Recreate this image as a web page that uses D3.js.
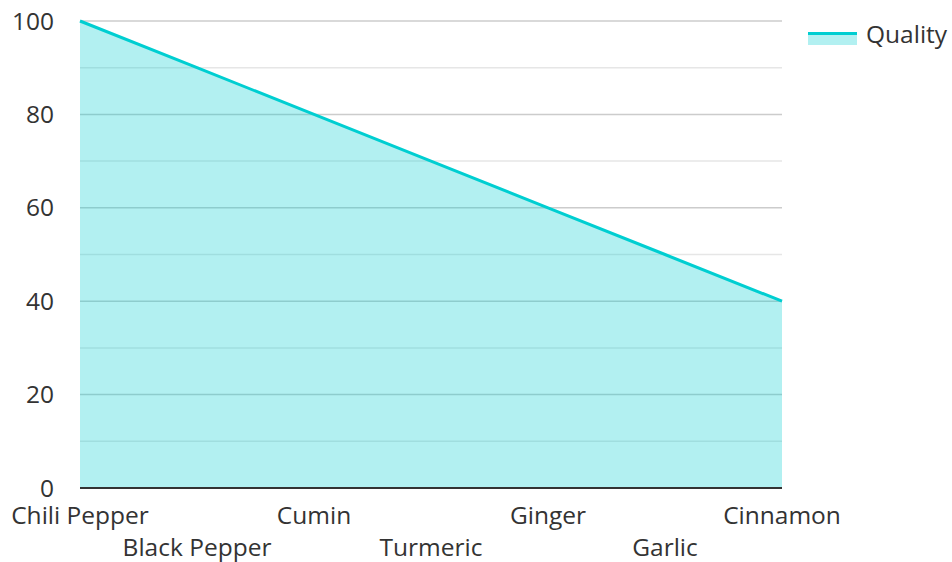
<!DOCTYPE html>
<html lang="en">
  <head>
    <meta charset="UTF-8" />
    <title>Spice Quality</title>
    <script src="https://d3js.org/d3.v7.min.js"></script>
    <style>
      body { margin: 0; background: #fff; }
      text { font-family: "Open Sans", "Noto Sans", sans-serif; fill: #333; }
    </style>
  </head>
  <body>
    <svg width="952" height="562"></svg>

    <script>
      // data
      const categories = ["Chili Pepper", "Black Pepper", "Cumin", "Turmeric", "Ginger", "Garlic", "Cinnamon"];
      const quality = [100, 90, 80, 70, 60, 50, 40];
      const yTicks = [0, 20, 40, 60, 80, 100];
      const seriesName = "Quality";
      const color = "#00ced1";

      const svg = d3.select("svg");
      const margin = { left: 80, right: 170, top: 21, bottom: 74 };
      const width = 952, height = 562;
      const fontSize = 24.5;

      const x = d3.scalePoint()
        .domain(categories)
        .range([margin.left, width - margin.right]);

      const y = d3.scaleLinear()
        .domain([0, 100])
        .range([height - margin.bottom, margin.top]);

      // grid lines (minor every 10, major every 20)
      const grid = svg.append("g");
      grid.selectAll("line")
        .data(d3.range(10, 101, 10))
        .join("line")
        .attr("x1", margin.left)
        .attr("x2", width - margin.right)
        .attr("y1", d => y(d))
        .attr("y2", d => y(d))
        .attr("stroke", d => d % 20 === 0 ? "#cccccc" : "#e6e6e6")
        .attr("stroke-width", 1.5);

      // area + line
      const area = d3.area()
        .x((d, i) => x(categories[i]))
        .y0(y(0))
        .y1(d => y(d));

      const line = d3.line()
        .x((d, i) => x(categories[i]))
        .y(d => y(d));

      svg.append("path")
        .datum(quality)
        .attr("d", area)
        .attr("fill", color)
        .attr("fill-opacity", 0.3);

      svg.append("path")
        .datum(quality)
        .attr("d", line)
        .attr("fill", "none")
        .attr("stroke", color)
        .attr("stroke-width", 3);

      // y axis labels
      svg.append("g")
        .selectAll("text")
        .data(yTicks)
        .join("text")
        .attr("x", 54)
        .attr("y", d => y(d))
        .attr("dy", "0.35em")
        .attr("text-anchor", "end")
        .attr("font-size", fontSize)
        .text(d => d);

      // x axis baseline
      svg.append("line")
        .attr("x1", margin.left)
        .attr("x2", width - margin.right)
        .attr("y1", y(0))
        .attr("y2", y(0))
        .attr("stroke", "#333")
        .attr("stroke-width", 2);

      // x labels, staggered
      svg.append("g")
        .selectAll("text")
        .data(categories)
        .join("text")
        .attr("x", d => x(d))
        .attr("y", (d, i) => i % 2 === 0 ? 524 : 556)
        .attr("text-anchor", "middle")
        .attr("font-size", fontSize)
        .text(d => d);

      // legend
      const legend = svg.append("g").attr("transform", "translate(808, 32)");
      legend.append("rect")
        .attr("width", 49)
        .attr("height", 13)
        .attr("fill", color)
        .attr("fill-opacity", 0.3);
      legend.append("line")
        .attr("x1", 0)
        .attr("x2", 49)
        .attr("y1", 1.5)
        .attr("y2", 1.5)
        .attr("stroke", color)
        .attr("stroke-width", 3);
      legend.append("text")
        .attr("x", 58)
        .attr("y", 2)
        .attr("dy", "0.35em")
        .attr("font-size", fontSize)
        .text(seriesName);
    </script>
  </body>
</html>
